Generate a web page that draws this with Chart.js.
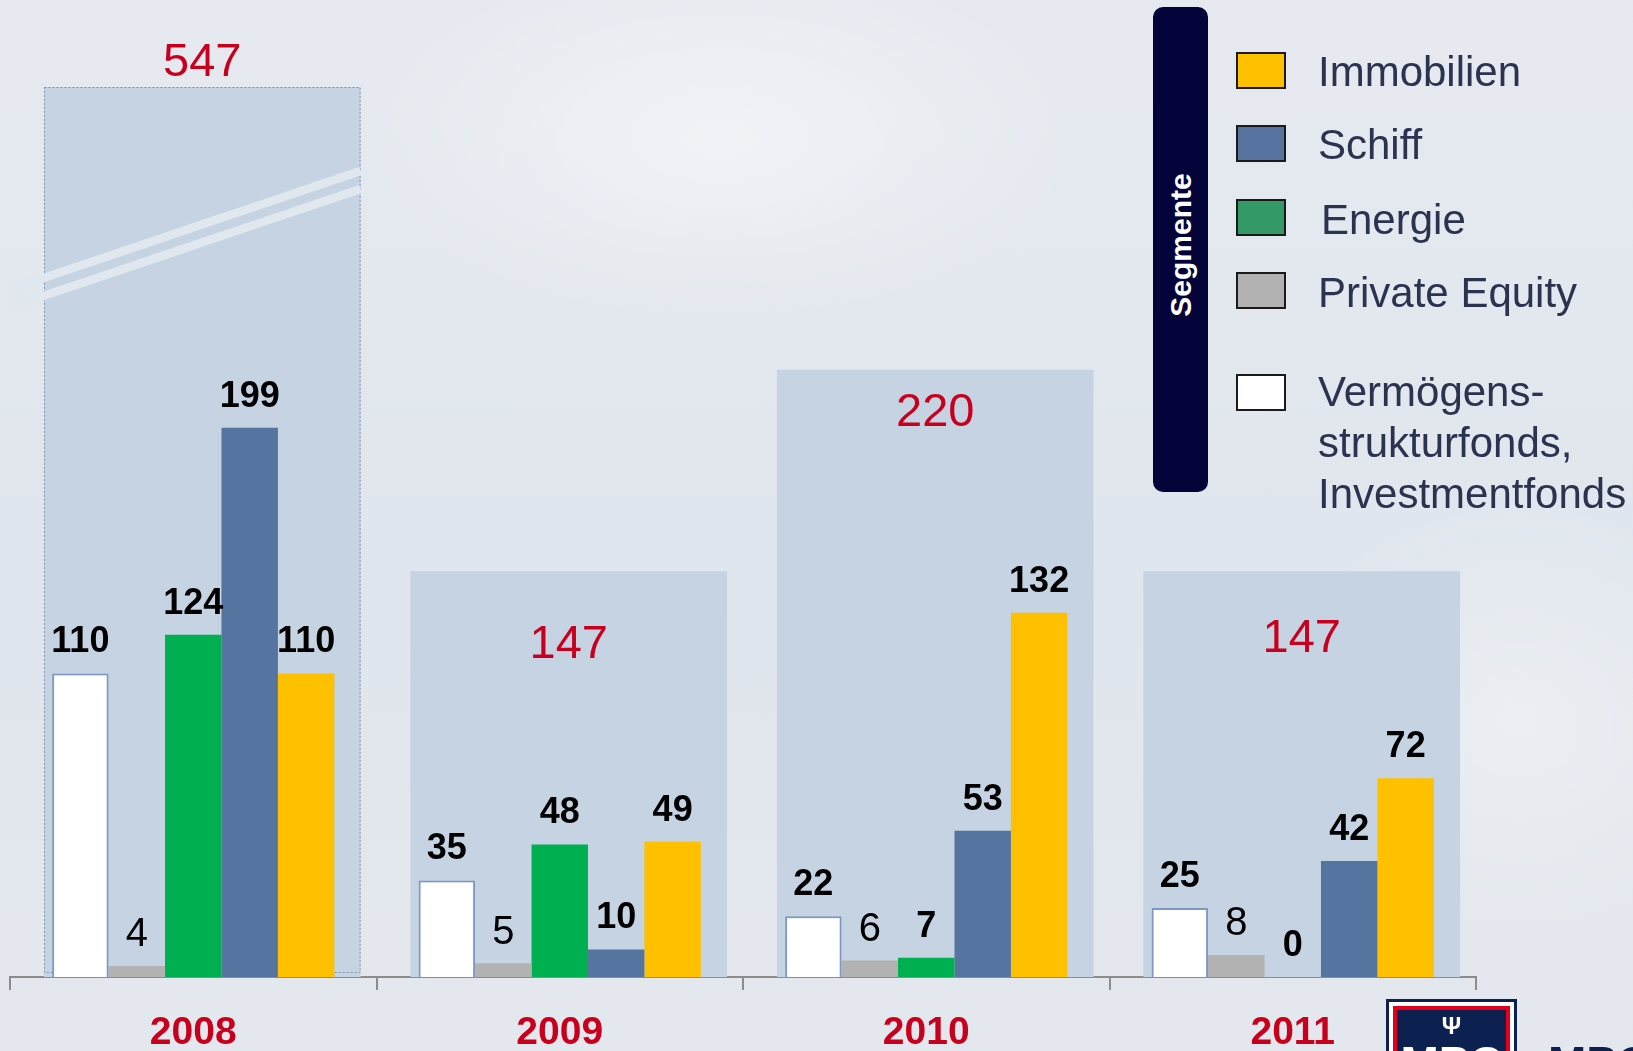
<!DOCTYPE html>
<html>
<head>
<meta charset="utf-8">
<script src="https://cdn.jsdelivr.net/npm/chart.js@4.4.1/dist/chart.umd.min.js"></script>
<style>
  html, body { margin: 0; padding: 0; }
  body {
    width: 1633px; height: 1051px; overflow: hidden; position: relative;
    font-family: "Liberation Sans", Arial, sans-serif;
    background:
      radial-gradient(ellipse 520px 260px at 720px 140px, rgba(255,255,255,0.45), rgba(255,255,255,0) 70%),
      radial-gradient(ellipse 380px 320px at 1520px 720px, rgba(255,255,255,0.35), rgba(255,255,255,0) 70%),
      linear-gradient(180deg, #e6eaf0 0%, #e0e6ed 55%, #e4e8ee 100%);
  }
  #wrap { position: absolute; left: 0; top: 0; width: 1633px; height: 1051px; }
  .seg {
    position: absolute; left: 1153px; top: 7px; width: 55px; height: 485px;
    background: #03033a; border-radius: 10px;
  }
  .seg span {
    position: absolute; left: 50%; top: 238px; transform: translate(-50%, -50%) rotate(-90deg);
    color: #fff; font-weight: bold; font-size: 30px; white-space: nowrap;
  }
  .sw { position: absolute; left: 1236px; width: 50px; height: 37px; box-sizing: border-box; border: 2px solid #1a1a1a; }
  .lt { position: absolute; left: 1318px; font-size: 42px; line-height: 51px; color: #2b3350; white-space: nowrap; }
  .logo {
    position: absolute; left: 1386px; top: 999px; width: 131px; height: 90px; box-sizing: border-box;
    background: #0c2150; padding: 3px;
  }
  .logo .in1 { background: #fff; padding: 4px; height: 100%; box-sizing: border-box; }
  .logo .in2 { background: #e2001a; padding: 4px; height: 100%; box-sizing: border-box; }
  .logo .in3 { background: #0c2150; height: 100%; position: relative; }
  .logo .tri { position: absolute; left: 0; right: 0; top: 2px; text-align: center; color: #fff; font-weight: bold; font-size: 24px; }
  .logo .mpc { position: absolute; left: 0; right: 0; top: 30px; text-align: center; color: #fff; font-weight: bold; font-size: 46px; line-height: 46px; }
  .mpc2 { position: absolute; left: 1548px; top: 1040px; color: #0c2150; font-weight: bold; font-size: 46px; line-height: 46px; }
</style>
</head>
<body>
<div id="wrap"><canvas id="chart"></canvas></div>

<div class="seg"><span>Segmente</span></div>
<div class="sw" style="top:52px;background:#ffc000"></div>
<div class="sw" style="top:125px;background:#5673a0"></div>
<div class="sw" style="top:199px;background:#339966"></div>
<div class="sw" style="top:272px;background:#b2b2b2"></div>
<div class="sw" style="top:374px;background:#ffffff"></div>
<div class="lt" style="top:46px">Immobilien</div>
<div class="lt" style="top:119px">Schiff</div>
<div class="lt" style="top:194px;left:1321px">Energie</div>
<div class="lt" style="top:267px">Private Equity</div>
<div class="lt" style="top:366px">Vermögens-<br>strukturfonds,<br>Investmentfonds</div>

<div class="logo"><div class="in1"><div class="in2"><div class="in3"><div class="tri">Ψ</div><div class="mpc">MPC</div></div></div></div></div>
<div class="mpc2">MPC</div>

<script>
// Platzierungsvolumen nach Segmenten (Mio. EUR)
const categories = ['2008', '2009', '2010', '2011'];
const vermoegen = [110, 35, 22, 25];
const privateEquity = [4, 5, 6, 8];
const energie = [124, 48, 7, 0];
const schiff = [199, 10, 53, 42];
const immobilien = [110, 49, 132, 72];
const totals = [547, 147, 220, 147];

const RED = '#c8001e';
const FONT = '"Liberation Sans", Arial, sans-serif';

// draws value labels, totals, the dotted frame and break marks of the cut 2008 box
const overlay = {
  id: 'overlay',
  beforeDatasetDraw(chart, args, opts) {
    if (!chart.data.datasets[args.index].isTotal) return;
    chart.ctx.save();
    chart.ctx.translate(opts.boxShift, 0);   // total boxes sit a bit right of the groups
  },
  afterDatasetDraw(chart, args, opts) {
    const ds = chart.data.datasets[args.index];
    if (!ds.isTotal) return;
    const ctx = chart.ctx;
    const area = chart.chartArea;
    const el = args.meta.data[0];
    if (el && totals[0] > chart.scales.y.max) {
      const l = el.x - el.width / 2, r = el.x + el.width / 2;
      ctx.strokeStyle = '#8090aa';
      ctx.lineWidth = 1;
      ctx.setLineDash([2, 2]);
      ctx.strokeRect(l + 0.5, area.top + 0.5, el.width - 1, el.base - area.top - 5);
      ctx.setLineDash([]);
      // break marks
      ctx.strokeStyle = '#e1e7ef';
      ctx.lineWidth = 8.5;
      ctx.lineCap = 'butt';
      [0, 18].forEach(dy => {
        ctx.beginPath();
        ctx.moveTo(l - 36, area.top + 203 + dy);
        ctx.lineTo(r, area.top + 84 + dy);
        ctx.stroke();
      });
    }
    ctx.restore();
  },
  afterDatasetsDraw(chart, args, opts) {
    const ctx = chart.ctx;
    const area = chart.chartArea;
    ctx.save();
    ctx.textAlign = 'center';
    ctx.textBaseline = 'alphabetic';
    chart.data.datasets.forEach((ds, di) => {
      const meta = chart.getDatasetMeta(di);
      meta.data.forEach((el, i) => {
        const v = ds.data[i];
        if (ds.isTotal) {
          const size = 47;
          ctx.font = 'normal ' + size + 'px ' + FONT;
          ctx.fillStyle = RED;
          const top = Math.max(el.y, area.top);
          ctx.fillText(String(v), el.x + opts.boxShift, top + opts.totalOffset[i] + size * 0.358);
        } else {
          const size = ds.labelBold ? 36 : 40;
          ctx.font = (ds.labelBold ? 'bold ' : 'normal ') + size + 'px ' + FONT;
          ctx.fillStyle = '#000';
          ctx.fillText(String(v), el.x, el.y - 34 + size * 0.358);
        }
      });
    });
    ctx.restore();
  }
};

const ctx = document.getElementById('chart').getContext('2d');
new Chart(ctx, {
  type: 'bar',
  data: {
    labels: categories,
    datasets: [
      { label: 'Vermögensstrukturfonds, Investmentfonds', data: vermoegen, backgroundColor: '#ffffff', borderColor: '#7d98c2', borderWidth: 2, labelBold: true },
      { label: 'Private Equity', data: privateEquity, backgroundColor: '#b2b2b2', labelBold: false },
      { label: 'Energie', data: energie, backgroundColor: '#00b050', labelBold: true },
      { label: 'Schiff', data: schiff, backgroundColor: '#5574a0', labelBold: true },
      { label: 'Immobilien', data: immobilien, backgroundColor: '#ffc000', labelBold: true },
      { label: 'Gesamt', data: totals, backgroundColor: '#c5d3e2', order: 1, grouped: false,
        barPercentage: 1, categoryPercentage: 0.864, isTotal: true }
    ]
  },
  options: {
    responsive: true,
    maintainAspectRatio: false,
    animation: false,
    layout: { padding: { left: 10, right: 157, top: 87, bottom: -26 } },
    datasets: { bar: { barPercentage: 1, categoryPercentage: 0.77 } },
    plugins: {
      legend: { display: false },
      tooltip: { enabled: false },
      overlay: { totalOffset: [-28, 70, 39, 64], boxShift: 9 }
    },
    scales: {
      x: {
        offset: true,
        border: { display: true, color: '#8c8c8c', width: 2 },
        grid: { display: true, drawOnChartArea: false, drawTicks: true, tickLength: 13, color: '#8c8c8c', lineWidth: 2, offset: true },
        ticks: { color: RED, padding: 24, font: { family: FONT, size: 39, weight: 'bold', lineHeight: 1 } }
      },
      y: { display: false, min: 0, max: 322.5 }
    }
  },
  plugins: [overlay]
});
</script>
</body>
</html>
